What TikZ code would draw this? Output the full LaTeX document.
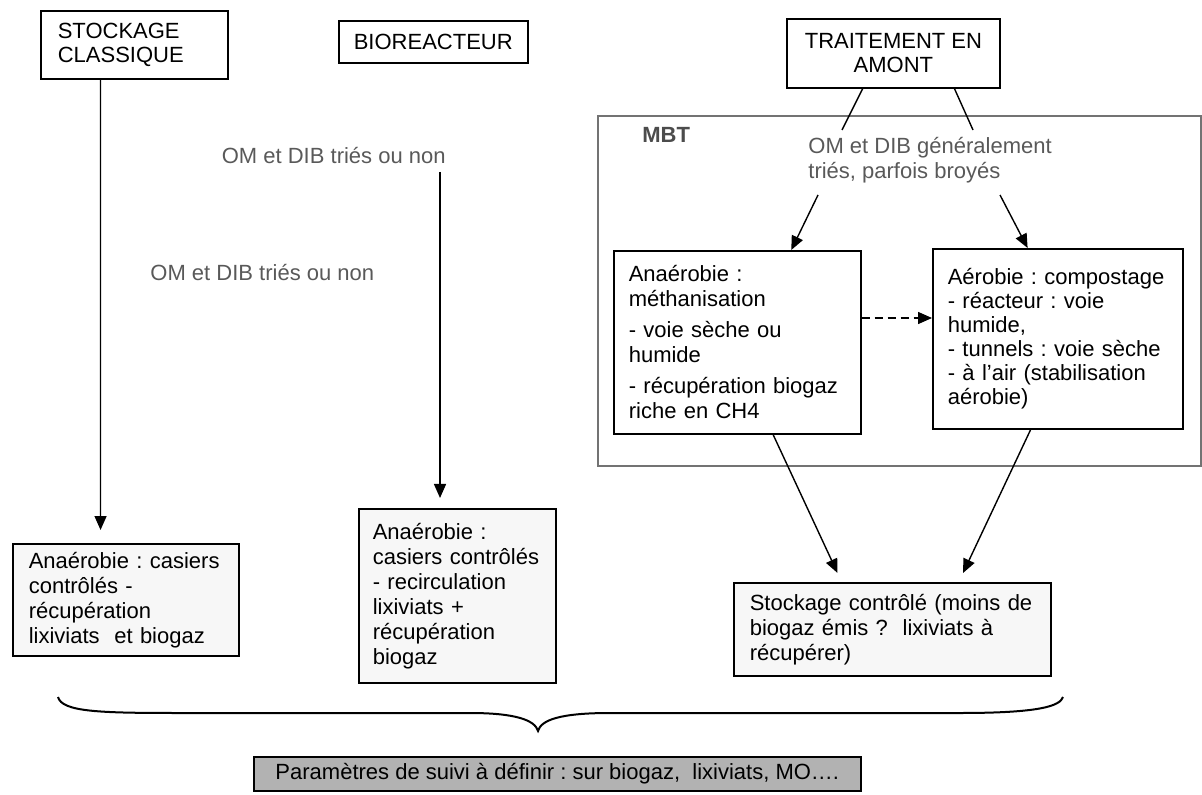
\documentclass[tikz,border=0pt]{standalone}
\usepackage{fontspec}
\setmainfont{Liberation Sans}
\usetikzlibrary{arrows.meta,calc}
\begin{document}
\begin{tikzpicture}[x=0.5pt,y=-0.5pt,
  every node/.style={font=\fontsize{11}{12.5}\selectfont\frenchspacing},
  bx/.style={draw, line width=0.8pt, anchor=north west, inner xsep=8pt, inner ysep=0pt, align=left},
  hdr/.style={bx, font=\fontsize{11}{12}\selectfont\frenchspacing},
  shd/.style={bx, fill=black!3},
  lbl/.style={text=black!65, align=left, inner sep=0pt},
  arr/.style={line width=0.7pt, -{Triangle[length=7pt,width=6pt]}},
  ln/.style={line width=0.7pt},
]
\useasboundingbox (0,0) rectangle (1202,795);

% headers
\node[hdr, text width=76.5pt, inner xsep=8.5pt, minimum height=34pt] (h1) at (40,10) {STOCKAGE\\CLASSIQUE};
\node[hdr, inner xsep=7.5pt, minimum height=21pt] (h2) at (338,20) {BIOREACTEUR};
\node[hdr, align=center, inner xsep=9pt, minimum height=34.5pt] (h3) at (786,18) {TRAITEMENT EN\\AMONT};

% MBT frame
\node[draw=black!55, line width=0.9pt, anchor=north west, inner sep=0pt, minimum width=301.5pt, minimum height=175pt] (mbt) at (597,115) {};
\node[text=black!70, font=\fontsize{11}{12.5}\selectfont\bfseries, anchor=west, inner sep=0pt] (mbtl) at (642,135) {MBT};

% labels
\node[lbl, anchor=west] (l1) at (150,273) {OM et DIB triés ou non};
\node[lbl, anchor=east] (l2) at (446,156) {OM et DIB triés ou non};
\node[lbl, anchor=north west] (l3) at (808,137) {OM et DIB généralement\\triés, parfois broyés};

% MBT inner boxes
\node[bx, inner xsep=7.5pt, text width=108.5pt, minimum height=91.5pt] (an) at (613,250)
  {Anaérobie :\\méthanisation\\[3pt]- voie sèche ou\\humide\\[3pt]- récupération biogaz\\riche en CH4};
\node[bx, inner xsep=7.5pt, text width=110pt, minimum height=90pt, font=\fontsize{11}{12}\selectfont\frenchspacing] (ae) at (932,248)
  {Aérobie : compostage\\- réacteur : voie\\humide,\\- tunnels : voie sèche\\- à l’air (stabilisation\\aérobie)};

% bottom boxes
\node[shd, text width=97pt, minimum height=56pt] (b1) at (12,543)
  {Anaérobie : casiers\\contrôlés -\\récupération\\lixiviats~ et biogaz};
\node[shd, inner xsep=7pt, text width=84.5pt, minimum height=87pt] (b2) at (358,508)
  {Anaérobie :\\casiers contrôlés\\- recirculation\\lixiviats +\\récupération\\biogaz};
\node[shd, text width=142.5pt, minimum height=46.5pt] (st) at (733,582)
  {Stockage contrôlé (moins de\\biogaz émis ?~ lixiviats à\\récupérer)};

% bottom bar
\node[draw, line width=0.8pt, fill=black!30, anchor=north west, minimum width=303.5pt, minimum height=17pt, inner sep=0pt] (par) at (253,756)
  {Paramètres de suivi à définir : sur biogaz,~ lixiviats, MO….};

% connectors
\coordinate (m0) at (440,172);
\draw[arr] ($(h1.south west)!0.321!(h1.south east)$) -- ($(b1.north west)!0.389!(b1.north east)+(0,-13)$);
\draw[arr] (m0) -- (m0 |- {$(b2.north)+(0,-10)$});

\coordinate (t1) at (842,130);
\coordinate (t2) at (973,130);
\draw[ln] ($(h3.south west)!0.357!(h3.south east)$) -- (t1);
\draw[ln] ($(h3.south west)!0.784!(h3.south east)$) -- (t2);

\coordinate (s1) at (818,195);
\coordinate (s2) at (1000,195);
\draw[arr] (s1) -- ($(an.north west)!0.717!(an.north east)$);
\draw[arr] (s2) -- ($(ae.north west)!0.38!(ae.north east)$);

\coordinate (dsh) at (0,318);
\draw[arr, dashed, dash pattern=on 4pt off 2.5pt] (an.east |- dsh) -- (ae.west |- dsh);

\draw[arr] ($(an.south west)!0.644!(an.south east)$) -- ($(st.north west)!0.328!(st.north east)+(0,-9)$);
\draw[arr] ($(ae.south west)!0.392!(ae.south east)$) -- ($(st.north west)!0.722!(st.north east)+(0,-9)$);

% brace
\draw[line width=1pt] (58,697) .. controls (62,712) and (100,713) .. (180,713) -- (470,713)
  .. controls (515,713) and (535,720) .. (538,731)
  .. controls (541,720) and (560,713) .. (610,713) -- (960,713)
  .. controls (1040,713) and (1060,706) .. (1063,697);
\end{tikzpicture}
\end{document}
